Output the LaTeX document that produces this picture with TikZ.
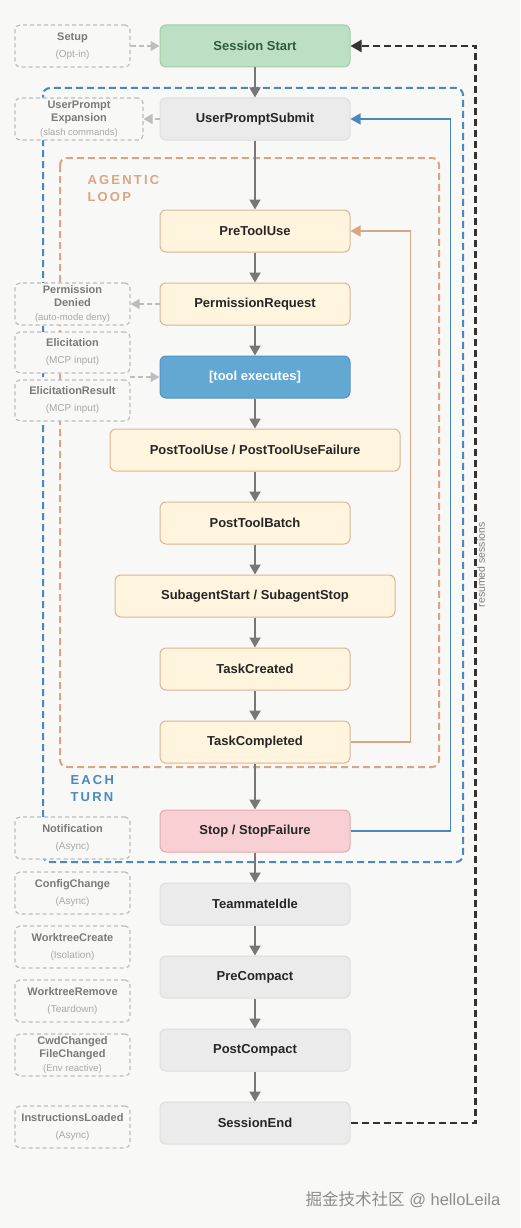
\documentclass[tikz,border=0pt]{standalone}
\usepackage{fontspec}
\setmainfont{Liberation Sans}
\newfontfamily\cjk{Noto Sans CJK SC}
\newfontfamily\spaced[LetterSpace=17]{Liberation Sans}
\usetikzlibrary{arrows.meta}

\definecolor{bg}{HTML}{F8F8F7}
\definecolor{flowgray}{HTML}{777777}
\definecolor{sidegray}{HTML}{BDBDBD}
\definecolor{sidetitle}{HTML}{7A7A7A}
\definecolor{sidesub}{HTML}{A8A8A8}
\definecolor{greenfill}{HTML}{BDDFC3}
\definecolor{greenline}{HTML}{A0CDA7}
\definecolor{greentext}{HTML}{2F5D3A}
\definecolor{grayfill}{HTML}{EBEBEB}
\definecolor{grayline}{HTML}{DDDDDD}
\definecolor{creamfill}{HTML}{FFF5DF}
\definecolor{creamline}{HTML}{DDB493}
\definecolor{toolfill}{HTML}{63A7D3}
\definecolor{toolline}{HTML}{5095C3}
\definecolor{pinkfill}{HTML}{F8D0D3}
\definecolor{pinkline}{HTML}{E6A8AD}
\definecolor{loopline}{HTML}{D9A583}
\definecolor{turnline}{HTML}{4A89BD}
\definecolor{resumeline}{HTML}{333333}

\newcommand{\sidebox}[2]{\bfseries\fontsize{11}{13}\selectfont #1\\[5pt]\mdseries\fontsize{10}{12}\selectfont\color{sidesub}#2}
\newcommand{\sideboxtwo}[3]{\bfseries\fontsize{11}{13}\selectfont #1\\[1.5pt]\bfseries\fontsize{11}{13}\selectfont #2\\[2pt]\mdseries\fontsize{9.5}{11}\selectfont\color{sidesub}#3}

\begin{document}
\begin{tikzpicture}[x=1pt, y=-1pt,
  hook/.style={rectangle, rounded corners=6pt, line width=1pt, minimum width=190pt,
    minimum height=42pt, inner sep=0pt, font=\bfseries\fontsize{13}{15}\selectfont, text=black!85},
  plainhook/.style={hook, fill=grayfill, draw=grayline},
  loophook/.style={hook, fill=creamfill, draw=creamline},
  sidehook/.style={rectangle, rounded corners=5pt, dashed, dash pattern=on 4pt off 3pt,
    line width=1.2pt, draw=sidegray, fill=bg, minimum width=115pt, minimum height=42pt,
    inner sep=0pt, align=center, text=sidetitle},
  flow/.style={-{Triangle[length=10pt,width=11pt]}, line width=2pt, draw=flowgray},
  sideflow/.style={-{Triangle[length=9pt,width=10pt]}, line width=1.3pt, draw=sidegray,
    dash pattern=on 5pt off 3pt},
  region/.style={rounded corners=7pt, line width=2pt, dash pattern=on 7pt off 4pt}]

\useasboundingbox (0,0) rectangle (520,1228);
\fill[bg] (0,0) rectangle (520,1228);

% regions
\draw[region, turnline] (43,88) rectangle (463,862);
\draw[region, loopline] (60,158) rectangle (439,767);

\node (turnlbl) at (67,789) [anchor=west, align=left, text=turnline,
  font=\spaced\bfseries\fontsize{13}{17}\selectfont]{EACH\\TURN};
\node (looplbl) at (84,189) [anchor=west, align=left, text=loopline,
  font=\spaced\bfseries\fontsize{13}{17}\selectfont]{AGENTIC\\LOOP};

% main column
\node (start) at (255,46) [hook, fill=greenfill, draw=greenline, text=greentext]{Session Start};
\node (submit) at (255,119) [plainhook]{UserPromptSubmit};
\node (pretool) at (255,231) [loophook]{PreToolUse};
\node (permreq) at (255,304) [loophook]{PermissionRequest};
\node (tool) at (255,377) [hook, fill=toolfill, draw=toolline, text=white]{[tool executes]};
\node (posttool) at (255,450) [loophook, minimum width=290pt]{PostToolUse / PostToolUseFailure};
\node (batch) at (255,523) [loophook]{PostToolBatch};
\node (subagent) at (255,596) [loophook, minimum width=280pt]{SubagentStart / SubagentStop};
\node (taskmade) at (255,669) [loophook]{TaskCreated};
\node (taskdone) at (255,742) [loophook]{TaskCompleted};
\node (stop) at (255,831) [hook, fill=pinkfill, draw=pinkline]{Stop / StopFailure};
\node (idle) at (255,904) [plainhook]{TeammateIdle};
\node (precompact) at (255,977) [plainhook]{PreCompact};
\node (postcompact) at (255,1050) [plainhook]{PostCompact};
\node (end) at (255,1123) [plainhook]{SessionEnd};

\draw[flow] (start) -- (submit);
\draw[flow] (submit) -- (pretool);
\draw[flow] (pretool) -- (permreq);
\draw[flow] (permreq) -- (tool);
\draw[flow] (tool) -- (posttool);
\draw[flow] (posttool) -- (batch);
\draw[flow] (batch) -- (subagent);
\draw[flow] (subagent) -- (taskmade);
\draw[flow] (taskmade) -- (taskdone);
\draw[flow] (taskdone) -- (stop);
\draw[flow] (stop) -- (idle);
\draw[flow] (idle) -- (precompact);
\draw[flow] (precompact) -- (postcompact);
\draw[flow] (postcompact) -- (end);

% loops back
\draw[-{Triangle[length=10pt,width=11pt]}, line width=1.6pt, loopline]
  (taskdone.east) -- ++(60,0) |- (pretool.east);
\draw[-{Triangle[length=10pt,width=11pt]}, line width=1.6pt, turnline]
  (stop.east) -- ++(100,0) |- (submit.east);
\draw[-{Triangle[length=11pt,width=12pt]}, line width=2.2pt, resumeline, dash pattern=on 7pt off 4pt]
  (end.east) -- ++(125,0) |- (start.east);
\node (resumedlbl) at (481,565) [rotate=90, text=black!50, font=\fontsize{10.5}{12}\selectfont]{resumed sessions};

% side hooks
\node (setup) at (72.5,46) [sidehook]{\sidebox{Setup}{(Opt-in)}};
\node (expand) at (79,119) [sidehook, minimum width=128pt]{\sideboxtwo{UserPrompt}{Expansion}{(slash commands)}};
\node (denied) at (72.5,304) [sidehook]{\sideboxtwo{Permission}{Denied}{(auto-mode deny)}};
\node (elic) at (72.5,352.5) [sidehook, minimum height=41pt]{\sidebox{Elicitation}{(MCP input)}};
\node (elicres) at (72.5,400.5) [sidehook, minimum height=41pt]{\sidebox{ElicitationResult}{(MCP input)}};
\node (notify) at (72.5,838) [sidehook]{\sidebox{Notification}{(Async)}};
\node (config) at (72.5,893) [sidehook]{\sidebox{ConfigChange}{(Async)}};
\node (wtcreate) at (72.5,947) [sidehook]{\sidebox{WorktreeCreate}{(Isolation)}};
\node (wtremove) at (72.5,1001) [sidehook]{\sidebox{WorktreeRemove}{(Teardown)}};
\node (cwd) at (72.5,1055) [sidehook]{\sideboxtwo{CwdChanged}{FileChanged}{(Env reactive)}};
\node (instr) at (72.5,1127) [sidehook]{\sidebox{InstructionsLoaded}{(Async)}};

\coordinate (elicout) at (130,377);
\draw[sideflow] (setup) -- (start);
\draw[sideflow] (submit) -- (expand);
\draw[sideflow] (permreq) -- (denied);
\draw[sideflow] (elicout) -- (tool);

% watermark
\node (mark) at (403,1200) [text=black!45, font=\fontsize{16.5}{18}\selectfont]{{\cjk 掘金技术社区} @ helloLeila};

\end{tikzpicture}
\end{document}
